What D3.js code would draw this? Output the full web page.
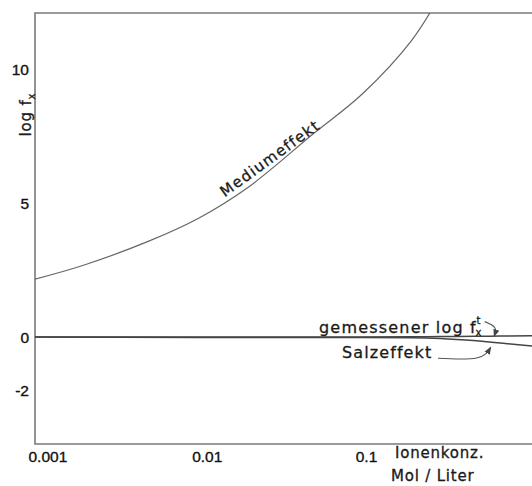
<!DOCTYPE html>
<html lang="de">
<head>
<meta charset="utf-8">
<title>log f_x</title>
<script src="https://cdn.jsdelivr.net/npm/d3@7"></script>
<style>
  body { margin: 0; background: #fff; }
  .frame { fill: none; stroke: #7a7a7a; stroke-width: 1.6; }
  .curve { fill: none; stroke: #666; stroke-width: 1.2; }
  .flat { fill: none; stroke: #444; stroke-width: 1.5; }
  .arrow { fill: none; stroke: #555; stroke-width: 1.1; }
  .axis text { font-family: "Liberation Sans", Arial, sans-serif; font-size: 15.5px; fill: #111; stroke: #111; stroke-width: 0.35px; }
  .lbl { font-family: "DejaVu Sans", sans-serif; font-size: 15px; fill: #1a1a1a; stroke: #1a1a1a; stroke-width: 0.3px; letter-spacing: 0.8px; }
  .ann { font-size: 16px; letter-spacing: 1.2px; }
  .small { font-size: 10px; letter-spacing: 0; }
</style>
</head>
<body>
<script>
// values
var mediumConc = [0.001, 0.002, 0.005, 0.01, 0.02, 0.05, 0.1, 0.2, 0.3];
var mediumEffekt = [2.17, 2.7, 3.6, 4.45, 5.6, 7.6, 9.1, 11.1, 12.8];

var nearConc = [0.001, 0.01, 0.1, 0.2, 0.3, 0.5, 0.7, 1.09];
var salzEffekt = [0, -0.01, -0.01, -0.02, -0.05, -0.14, -0.22, -0.33];
var gemessen = [0, 0, 0, 0.01, 0.02, 0.03, 0.04, 0.05];

var xTicks = [0.001, 0.01, 0.1];
var xTickLabels = ["0.001", "0.01", "0.1"];
var yTicks = [10, 5, 0, -2];

// annotation arrows, [conc, value]
var arrowGemessen = [[0.56, 0.58], [0.645, 0.36], [0.64, 0.03]];
var arrowSalz = [[0.29, -0.79], [0.5, -0.78], [0.61, -0.38]];

var w = 532, h = 486;
var x0 = 35, x1 = 532, yTop = 13, yBottom = 444;

var svg = d3.select("body").append("svg")
  .attr("width", w)
  .attr("height", h);

var xScale = d3.scaleLog().domain([0.001, 1.09]).range([x0, x1]);
var yScale = d3.scaleLinear().domain([-4, 12.13]).range([yBottom, yTop]);

var defs = svg.append("defs");
defs.append("clipPath").attr("id", "plot")
  .append("rect")
  .attr("x", x0).attr("y", yTop)
  .attr("width", x1 - x0).attr("height", yBottom - yTop);

var marker = defs.append("marker")
  .attr("id", "head")
  .attr("viewBox", "0 0 10 10")
  .attr("refX", 9).attr("refY", 5)
  .attr("markerWidth", 7).attr("markerHeight", 7)
  .attr("orient", "auto");
marker.append("path").attr("d", "M0,1 L10,5 L0,9 Z").attr("fill", "#444");

// frame: left, top, bottom
svg.append("path")
  .attr("class", "frame")
  .attr("d", "M" + x1 + "," + yTop + "H" + x0 + "V" + yBottom + "H" + x1);

var g = svg.append("g").attr("clip-path", "url(#plot)");

var lineMed = d3.line()
  .x(function (d, i) { return xScale(mediumConc[i]); })
  .y(function (d) { return yScale(d); })
  .curve(d3.curveCatmullRom);

g.append("path")
  .datum(mediumEffekt)
  .attr("class", "curve")
  .attr("d", lineMed);

var lineNear = d3.line()
  .x(function (d, i) { return xScale(nearConc[i]); })
  .y(function (d) { return yScale(d); })
  .curve(d3.curveMonotoneX);

g.append("path").datum(salzEffekt).attr("class", "flat").attr("d", lineNear);
g.append("path").datum(gemessen).attr("class", "flat").attr("d", lineNear);

// axes (labels only)
var xAxis = d3.axisBottom(xScale)
  .tickValues(xTicks)
  .tickSize(0)
  .tickFormat(function (d, i) { return xTickLabels[i]; });

var gx = svg.append("g")
  .attr("class", "axis")
  .attr("transform", "translate(0," + yBottom + ")")
  .call(xAxis);
gx.select(".domain").remove();
gx.selectAll("text")
  .attr("text-anchor", "start")
  .attr("dx", -7)
  .attr("y", 18)
  .attr("dy", 0);

var yAxis = d3.axisLeft(yScale)
  .tickValues(yTicks)
  .tickSize(0)
  .tickFormat(function (d) { return d < 0 ? "-" + Math.abs(d) : d; });

var gy = svg.append("g")
  .attr("class", "axis")
  .attr("transform", "translate(" + x0 + ",0)")
  .call(yAxis);
gy.select(".domain").remove();
gy.selectAll("text").attr("x", -6);

// axis titles
var yl = svg.append("text")
  .attr("class", "lbl")
  .attr("transform", "translate(31,115) rotate(-90)")
  .attr("text-anchor", "middle");
yl.append("tspan").text("log f");
yl.append("tspan").attr("class", "small").attr("font-size", "11px").attr("dy", 4).text("x");

svg.append("text")
  .attr("class", "lbl")
  .attr("x", 395).attr("y", 458)
  .text("Ionenkonz.");
svg.append("text")
  .attr("class", "lbl")
  .attr("x", 391).attr("y", 481)
  .text("Mol / Liter");

// curve labels
var mx = 0.0285;
svg.append("text")
  .attr("class", "lbl")
  .attr("text-anchor", "middle")
  .attr("transform", "translate(" + xScale(mx) + "," + (yScale(6.35) - 5) + ") rotate(-36)")
  .style("letter-spacing", "1.3px")
  .text("Mediumeffekt");

var gmx = 319, gmy = 333;
var gm = svg.append("text")
  .attr("class", "lbl ann")
  .attr("x", gmx).attr("y", gmy)
  .text("gemessener log f");
var gmEnd = gmx + gm.node().getComputedTextLength() - 0.5;
svg.append("text").attr("class", "lbl small")
  .attr("x", gmEnd).attr("y", gmy - 9).text("t");
svg.append("text").attr("class", "lbl small")
  .attr("x", gmEnd - 1).attr("y", gmy + 3).text("x");

svg.append("text")
  .attr("class", "lbl ann")
  .attr("x", 342).attr("y", 358)
  .style("letter-spacing", "1.1px")
  .text("Salzeffekt");

var lineArrow = d3.line()
  .x(function (d) { return xScale(d[0]); })
  .y(function (d) { return yScale(d[1]); })
  .curve(d3.curveNatural);

svg.append("path").datum(arrowGemessen).attr("class", "arrow")
  .attr("marker-end", "url(#head)").attr("d", lineArrow);
svg.append("path").datum(arrowSalz).attr("class", "arrow")
  .attr("marker-end", "url(#head)").attr("d", lineArrow);
</script>
</body>
</html>
